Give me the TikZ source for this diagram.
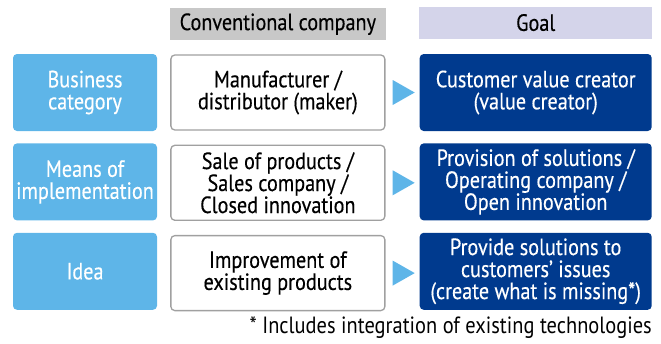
\documentclass[tikz,border=0pt]{standalone}
\usepackage{fontspec}
\setmainfont[FakeStretch=0.86,FakeBold=0.3]{PT Sans}
\newfontfamily\notefont[FakeStretch=0.87]{PT Sans}
\usetikzlibrary{positioning,shapes.geometric}
\definecolor{bcsky}{HTML}{5EB5E8}
\definecolor{bcnavy}{HTML}{003A8E}
\definecolor{bcgrey}{HTML}{C8C8C8}
\definecolor{bcframe}{HTML}{A0A0A0}
\definecolor{bclilac}{HTML}{D4D4EA}
\newcommand{\bcfont}{\fontsize{23.5}{22}\selectfont}
\tikzset{
  cat/.style={fill=bcsky,text=white,rounded corners=4pt,align=center,
              minimum width=144pt,minimum height=77pt,inner sep=1pt,font=\bcfont},
  old/.style={draw=bcframe,line width=1.3pt,fill=white,rounded corners=4pt,
              align=center,minimum width=214pt,minimum height=75pt,inner sep=1pt,
              font=\bcfont},
  goal/.style={fill=bcnavy,text=white,rounded corners=4pt,align=center,
               minimum width=232pt,minimum height=77pt,inner sep=1pt,font=\bcfont},
  hd/.style={minimum height=32pt,inner sep=1pt,font=\bcfont},
  tri/.style={fill=bcsky,isosceles triangle,isosceles triangle stretches,
              minimum width=25pt,minimum height=22pt,inner sep=0pt},
}
\begin{document}
\begin{tikzpicture}[x=1pt,y=-1pt]
  \useasboundingbox (0,0) rectangle (661,343);
  % first row
  \node[cat] (c1) at (85,92.5) {Business\\category};
  \node[old,right=13pt of c1] (o1) {Manufacturer /\\distributor (maker)};
  \node[goal,right=34pt of o1] (g1) {Customer value creator\\(value creator)};
  % second and third rows
  \node[cat,below=12pt of c1] (c2) {Means of\\implementation};
  \node[old,below=14pt of o1] (o2) {Sale of products /\\Sales company /\\Closed innovation};
  \node[goal,below=12pt of g1] (g2) {Provision of solutions /\\Operating company /\\Open innovation};
  \node[cat,below=12pt of c2] (c3) {Idea};
  \node[old,below=14pt of o2] (o3) {Improvement of\\existing products};
  \node[goal,below=12pt of g2] (g3) {Provide solutions to\\customers’ issues\\(create what is missing*)};
  \foreach \r in {1,2,3}
    \node[tri,right=7pt of o\r] (t\r) {};
  % column heads
  \node[hd,fill=bcgrey,minimum width=216pt,above=14pt of o1] (hold) {Conventional company};
  \node[hd,fill=bclilac,minimum width=233pt,above=15pt of g1] (hgoal) {Goal};
  \node[anchor=east,font=\notefont\bcfont,inner sep=1pt] (note) at (653,328)
    {* Includes integration of existing technologies};
\end{tikzpicture}
\end{document}
